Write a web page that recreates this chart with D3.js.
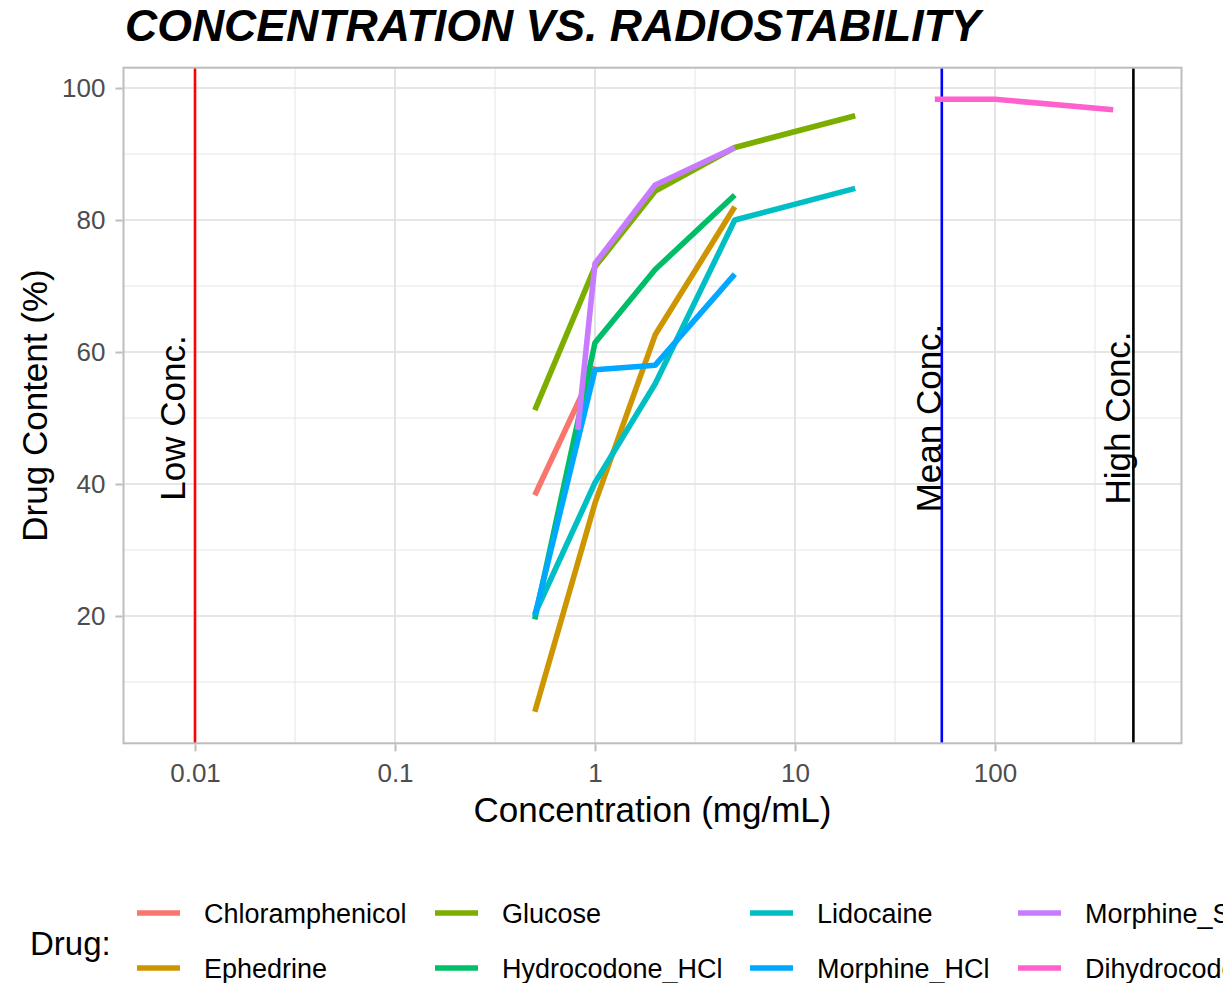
<!DOCTYPE html>
<html>
<head>
<meta charset="utf-8">
<script src="https://cdn.jsdelivr.net/npm/d3@7"></script>
<style>
  html, body { margin: 0; padding: 0; background: #fff; }
  svg { display: block; font-family: "Liberation Sans", Arial, sans-serif; }
</style>
</head>
<body>
<svg id="chart" width="1223" height="983"></svg>
<script>
// Drug content (%) measured at each concentration (mg/mL), one series per drug
const drugs = ["Chloramphenicol", "Ephedrine", "Glucose", "Hydrocodone_HCl",
               "Lidocaine", "Morphine_HCl", "Morphine_Sulfate", "Dihydrocodeine"];
const chloramphenicol = [[0.5, 38.3], [1, 57.8]];
const ephedrine       = [[0.5, 5.5], [1, 37.1], [2, 62.6], [5, 82.0]];
const glucose         = [[0.5, 51.2], [1, 72.9], [2, 84.4], [5, 91.0], [20, 95.8]];
const hydrocodoneHCl  = [[0.5, 19.5], [1, 61.4], [2, 72.5], [5, 83.8]];
const lidocaine       = [[0.5, 20.3], [1, 40.2], [2, 55.2], [5, 80.0], [20, 84.8]];
const morphineHCl     = [[0.5, 20.0], [1, 57.3], [2, 58.0], [5, 71.8]];
const morphineSulfate = [[0.82, 48.2], [1, 73.4], [2, 85.3], [5, 91.0]];
const dihydrocodeine  = [[50, 98.3], [100, 98.3], [390, 96.7]];
const seriesValues = [chloramphenicol, ephedrine, glucose, hydrocodoneHCl,
                      lidocaine, morphineHCl, morphineSulfate, dihydrocodeine];
const drugColors = ["#F8766D", "#CD9600", "#7CAE00", "#00BE67",
                    "#00BFC4", "#00A9FF", "#C77CFF", "#FF61CC"];

// Reference concentrations (vertical lines) and where their labels sit
const refNames  = ["Low Conc.", "Mean Conc.", "High Conc."];
const refValues = [0.01, 54.2, 492];
const refLabelX = [0.00767, 46.5, 410];
const refColors = ["#FF0000", "#0000FF", "#000000"];
const refLabelY = 50;

// Axis ticks
const xTicks = [0.01, 0.1, 1, 10, 100];
const xTickLabels = ["0.01", "0.1", "1", "10", "100"];
const xMinor = [0.0316228, 0.316228, 3.16228, 31.6228, 316.228];
const yTicks = [20, 40, 60, 80, 100];
const yMinor = [10, 30, 50, 70, 90];

const svg = d3.select("#chart");
const panel = { left: 123.5, right: 1181.5, top: 67.7, bottom: 743.3 };

const x = d3.scaleLog()
  .domain([Math.pow(10, -2.3575), Math.pow(10, 2.9325)])
  .range([panel.left, panel.right]);
const y = d3.scaleLinear()
  .domain([0.71, 103.08])
  .range([panel.bottom, panel.top]);

// Title
svg.append("text")
  .attr("x", 125).attr("y", 41)
  .attr("font-size", 44.6).attr("font-weight", "bold").attr("font-style", "italic")
  .attr("fill", "#000")
  .text("CONCENTRATION VS. RADIOSTABILITY");

// Grid
const grid = svg.append("g");
grid.selectAll(".xminor").data(xMinor).join("line")
  .attr("x1", d => x(d)).attr("x2", d => x(d))
  .attr("y1", panel.top).attr("y2", panel.bottom)
  .attr("stroke", "#E6E6E6").attr("stroke-width", 1);
grid.selectAll(".yminor").data(yMinor).join("line")
  .attr("y1", d => y(d)).attr("y2", d => y(d))
  .attr("x1", panel.left).attr("x2", panel.right)
  .attr("stroke", "#E6E6E6").attr("stroke-width", 1);
grid.selectAll(".xmajor").data(xTicks).join("line")
  .attr("x1", d => x(d)).attr("x2", d => x(d))
  .attr("y1", panel.top).attr("y2", panel.bottom)
  .attr("stroke", "#DEDEDE").attr("stroke-width", 1.6);
grid.selectAll(".ymajor").data(yTicks).join("line")
  .attr("y1", d => y(d)).attr("y2", d => y(d))
  .attr("x1", panel.left).attr("x2", panel.right)
  .attr("stroke", "#DEDEDE").attr("stroke-width", 1.6);

// Reference lines
svg.append("g").selectAll("line").data(refValues).join("line")
  .attr("x1", d => x(d)).attr("x2", d => x(d))
  .attr("y1", panel.top).attr("y2", panel.bottom)
  .attr("stroke", (d, i) => refColors[i]).attr("stroke-width", 2.6);

// Drug series
const line = d3.line().x(d => x(d[0])).y(d => y(d[1]));
svg.append("g").selectAll("path").data(seriesValues).join("path")
  .attr("d", line)
  .attr("fill", "none")
  .attr("stroke", (d, i) => drugColors[i])
  .attr("stroke-width", 5.6)
  .attr("stroke-linejoin", "round")
  .attr("stroke-linecap", "butt");

// Reference labels (rotated)
svg.append("g").selectAll("text").data(refNames).join("text")
  .attr("transform", (d, i) => `translate(${x(refLabelX[i])},${y(refLabelY)}) rotate(-90)`)
  .attr("text-anchor", "middle")
  .attr("dy", "0.36em")
  .attr("font-size", 35)
  .attr("fill", "#000")
  .text(d => d);

// Panel border
svg.append("rect")
  .attr("x", panel.left).attr("y", panel.top)
  .attr("width", panel.right - panel.left).attr("height", panel.bottom - panel.top)
  .attr("fill", "none").attr("stroke", "#BDBDBD").attr("stroke-width", 2);

// Axes
const xAxis = svg.append("g")
  .attr("transform", `translate(0,${panel.bottom + 1})`)
  .call(d3.axisBottom(x).tickValues(xTicks)
    .tickFormat((d, i) => xTickLabels[i]).tickSize(7).tickPadding(12));
const yAxis = svg.append("g")
  .attr("transform", `translate(${panel.left - 1},0)`)
  .call(d3.axisLeft(y).tickValues(yTicks).tickSize(7).tickPadding(10));
[xAxis, yAxis].forEach(a => {
  a.select(".domain").remove();
  a.selectAll(".tick line").attr("stroke", "#BDBDBD").attr("stroke-width", 2);
  a.selectAll(".tick text")
    .attr("fill", "#4D4D4D").attr("font-size", 26)
    .attr("font-family", "'Liberation Sans', Arial, sans-serif");
});

// Axis titles
svg.append("text")
  .attr("x", (panel.left + panel.right) / 2).attr("y", 822)
  .attr("text-anchor", "middle").attr("font-size", 35).attr("fill", "#000")
  .text("Concentration (mg/mL)");
svg.append("text")
  .attr("transform", `translate(47,${(panel.top + panel.bottom) / 2}) rotate(-90)`)
  .attr("text-anchor", "middle").attr("font-size", 35).attr("fill", "#000")
  .text("Drug Content (%)");

// Legend: two rows, filled column by column; the last column runs past the page edge
const legend = svg.append("g");
legend.append("text")
  .attr("x", 30).attr("y", 943).attr("dy", "0.36em")
  .attr("font-size", 33).attr("fill", "#000")
  .text("Drug:");
const colKeyX = [137, 435, 750, 1018];
const rowY = [913, 968];
const items = legend.selectAll("g.item").data(drugs).join("g")
  .attr("class", "item")
  .attr("transform", (d, i) => `translate(${colKeyX[Math.floor(i / 2)]},${rowY[i % 2]})`);
items.append("line")
  .attr("x1", 0).attr("x2", 43).attr("y1", 0).attr("y2", 0)
  .attr("stroke", (d, i) => drugColors[i]).attr("stroke-width", 5.6);
items.append("text")
  .attr("x", 67).attr("y", 0).attr("dy", "0.36em")
  .attr("font-size", 27).attr("fill", "#000")
  .text(d => d);
</script>
</body>
</html>
